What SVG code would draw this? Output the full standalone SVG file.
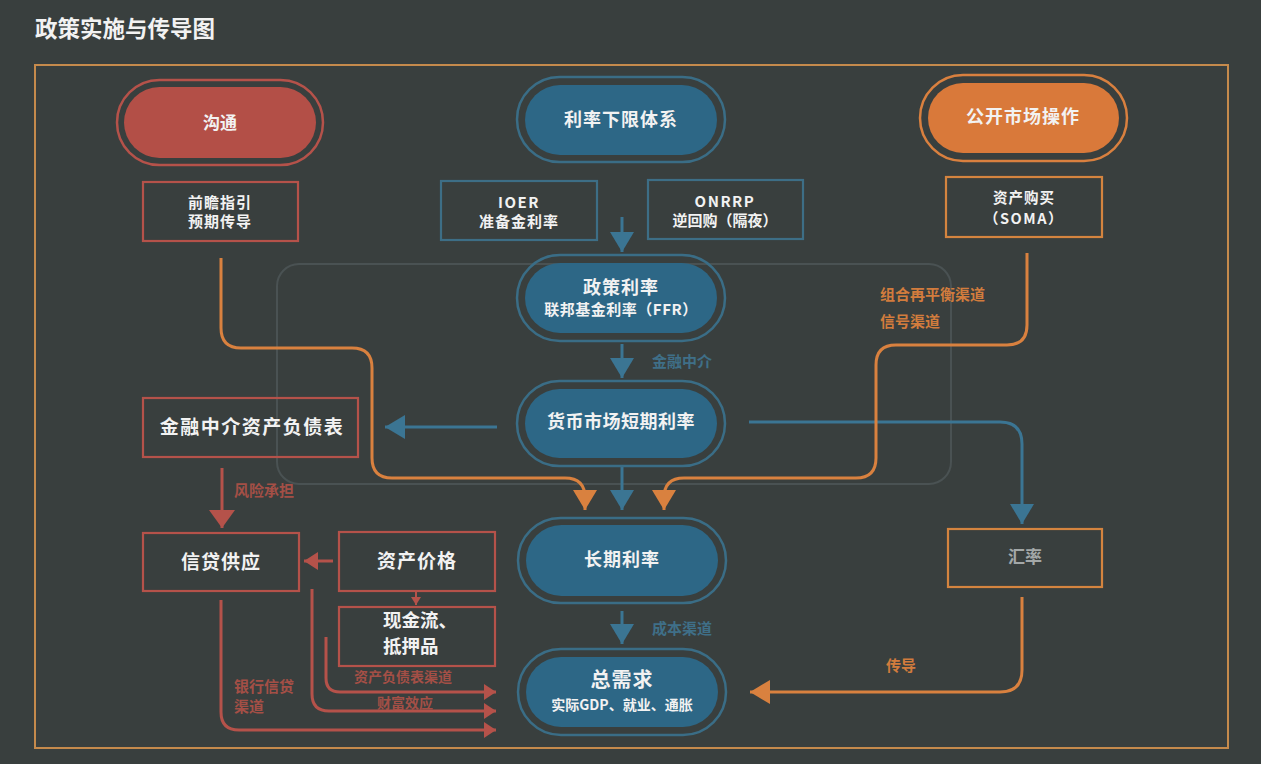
<svg xmlns="http://www.w3.org/2000/svg" width="1261" height="764" viewBox="0 0 1261 764">
<style>
text{font-family:"Noto Sans CJK SC","Noto Sans",sans-serif;font-weight:bold;fill:#f2f2f2;text-anchor:middle}
.lbl{text-anchor:start}
.ringB{fill:none;stroke:#3a6d86;stroke-width:2.5}
.ringR{fill:none;stroke:#b5524a;stroke-width:2.5}
.ringO{fill:none;stroke:#d9803f;stroke-width:2.5}
.fillB{fill:#2d6786}
.fillR{fill:#b34f47}
.fillO{fill:#d9793a}
.boxB{fill:none;stroke:#3d6e86;stroke-width:2.2}
.boxR{fill:none;stroke:#b5524a;stroke-width:2.2}
.boxO{fill:none;stroke:#d4843f;stroke-width:2.2}
.lnB{fill:none;stroke:#3b7593;stroke-width:3}
.lnO{fill:none;stroke:#d9813f;stroke-width:3}
.lnR{fill:none;stroke:#b5524a;stroke-width:3}
.tB{fill:#3f6f88}
.tO{fill:#d27c3d}
.tR{fill:#a44f46}
</style>
<defs>
<marker id="aB" markerUnits="userSpaceOnUse" markerWidth="20" markerHeight="24" refX="20" refY="12" orient="auto"><path d="M0,0 L20,12 L0,24 z" fill="#3b7593"/></marker>
<marker id="aO" markerUnits="userSpaceOnUse" markerWidth="20" markerHeight="24" refX="20" refY="12" orient="auto"><path d="M0,0 L20,12 L0,24 z" fill="#d9813f"/></marker>
<marker id="aR" markerUnits="userSpaceOnUse" markerWidth="18" markerHeight="26" refX="18" refY="13" orient="auto"><path d="M0,0 L18,13 L0,26 z" fill="#b5524a"/></marker>
<marker id="aRs" markerUnits="userSpaceOnUse" markerWidth="14" markerHeight="18" refX="14" refY="9" orient="auto"><path d="M0,0 L14,9 L0,18 z" fill="#b5524a"/></marker>
<marker id="aRm" markerUnits="userSpaceOnUse" markerWidth="12" markerHeight="16" refX="12" refY="8" orient="auto"><path d="M0,0 L12,8 L0,16 z" fill="#b5524a"/></marker>
<marker id="aRx" markerUnits="userSpaceOnUse" markerWidth="8" markerHeight="10" refX="8" refY="5" orient="auto"><path d="M0,0 L8,5 L0,10 z" fill="#b5524a"/></marker>
</defs>
<rect x="0" y="0" width="1261" height="764" fill="#393f3e"/>
<text class="lbl" x="35" y="37" style="font-size:22.5px">政策实施与传导图</text>
<rect x="35" y="65" width="1193" height="683" fill="none" stroke="#c58a4c" stroke-width="2"/>
<rect x="277" y="264" width="674" height="220" rx="22" fill="none" stroke="#4a5253" stroke-width="2"/>

<g id="connectors">
<path class="lnB" d="M622,217 V252" marker-end="url(#aB)"/>
<path class="lnB" d="M622,344 V378" marker-end="url(#aB)"/>
<path class="lnB" d="M622,466 V510" marker-end="url(#aB)"/>
<path class="lnB" d="M622,611 V644" marker-end="url(#aB)"/>
<path class="lnB" d="M497,427 H385" marker-end="url(#aB)"/>
<path class="lnB" d="M749,422 H1000 Q1022,422 1022,444 V524" marker-end="url(#aB)"/>
<path class="lnO" d="M221,258 V328 Q221,348 241,348 H352 Q372,348 372,368 V458 Q372,478 392,478 H565 Q585,478 585,498 V510" marker-end="url(#aO)"/>
<path class="lnO" d="M1027,253 V325 Q1027,345 1007,345 H896 Q876,345 876,365 V458 Q876,478 856,478 H684 Q664,478 664,498 V510" marker-end="url(#aO)"/>
<path class="lnO" d="M1022,597 V670 Q1022,692 1000,692 H750" marker-end="url(#aO)"/>
<path class="lnR" d="M222,468 V528" marker-end="url(#aR)"/>
<path class="lnR" d="M333,561 H304" marker-end="url(#aRs)"/>
<path class="lnR" style="stroke-width:2" d="M416,591 V605" marker-end="url(#aRx)"/>
<path class="lnR" d="M221,600 V712 Q221,730 239,730 H496" marker-end="url(#aRm)"/>
<path class="lnR" d="M312,589 V694 Q312,711 329,711 H496" marker-end="url(#aRm)"/>
<path class="lnR" d="M326,637 V678 Q326,692 340,692 H496" marker-end="url(#aRm)"/>
<text class="lbl tB" x="652" y="367" style="font-size:15px">金融中介</text>
<text class="lbl tB" x="652" y="634" style="font-size:15px">成本渠道</text>
<text class="lbl tO" x="880" y="300" style="font-size:15px">组合再平衡渠道</text>
<text class="lbl tO" x="880" y="327" style="font-size:15px">信号渠道</text>
<text class="lbl tO" x="886" y="671" style="font-size:15px">传导</text>
<text class="lbl tR" x="234" y="496" style="font-size:15px">风险承担</text>
<text class="lbl tR" x="234" y="692" style="font-size:15px">银行信贷<tspan x="234" dy="20">渠道</tspan></text>
<text class="lbl tR" x="354" y="682" style="font-size:14px">资产负债表渠道</text>
<text class="lbl tR" x="377" y="708" style="font-size:14px">财富效应</text>
</g>

<g id="node-goutong">
<rect class="ringR" x="117" y="80" width="206" height="85" rx="42.5"/>
<rect class="fillR" x="124" y="87" width="192" height="71" rx="35.5"/>
<text x="220" y="129" style="font-size:17px">沟通</text>
</g>
<g id="node-qianzhan">
<rect class="boxR" x="143" y="182" width="155" height="59"/>
<text x="220" y="208" style="font-size:15px;letter-spacing:1px">前瞻指引<tspan x="220" dy="19">预期传导</tspan></text>
</g>
<g id="node-lilvxiaxian">
<rect class="ringB" x="517" y="77" width="208" height="85" rx="42.5"/>
<rect class="fillB" x="525" y="85" width="192" height="70" rx="35"/>
<text x="621" y="126" style="font-size:18px;letter-spacing:1px">利率下限体系</text>
</g>
<g id="node-ioer">
<rect class="boxB" x="441" y="181" width="156" height="59"/>
<text x="519" y="208" style="font-size:15px;letter-spacing:1.5px">IOER<tspan x="519" dy="19" style="letter-spacing:1px">准备金利率</tspan></text>
</g>
<g id="node-onrrp">
<rect class="boxB" x="648" y="180" width="155" height="59"/>
<text x="725" y="207" style="font-size:15px;letter-spacing:1.5px">ONRRP<tspan x="725" dy="19" style="letter-spacing:0px">逆回购（隔夜）</tspan></text>
</g>
<g id="node-gongkai">
<rect class="ringO" x="920" y="75" width="207" height="86" rx="43"/>
<rect class="fillO" x="928" y="83" width="191" height="70" rx="35"/>
<text x="1023" y="123" style="font-size:18px;letter-spacing:1px">公开市场操作</text>
</g>
<g id="node-soma">
<rect class="boxO" x="946" y="177" width="156" height="60"/>
<text x="1024" y="203" style="font-size:14.5px;letter-spacing:1px">资产购买<tspan x="1024" dy="21" style="letter-spacing:1.5px">（SOMA）</tspan></text>
</g>
<g id="node-zhengce">
<rect class="ringB" x="517" y="255" width="208" height="86" rx="43"/>
<rect class="fillB" x="525" y="263" width="192" height="70" rx="35"/>
<text x="621" y="294" style="font-size:18px;letter-spacing:1px">政策利率<tspan x="621" dy="21" style="font-size:15px;letter-spacing:0.5px">联邦基金利率（FFR）</tspan></text>
</g>
<g id="node-huobi">
<rect class="ringB" x="517" y="381" width="208" height="85" rx="42.5"/>
<rect class="fillB" x="525" y="389" width="192" height="69" rx="34.5"/>
<text x="621" y="428" style="font-size:18px;letter-spacing:0.5px">货币市场短期利率</text>
</g>
<g id="node-jinrong">
<rect class="boxR" x="143" y="398" width="215" height="59"/>
<text x="252" y="434" style="font-size:19px;letter-spacing:1.5px">金融中介资产负债表</text>
</g>
<g id="node-changqi">
<rect class="ringB" x="518" y="518" width="208" height="85" rx="42.5"/>
<rect class="fillB" x="526" y="525" width="192" height="71" rx="35.5"/>
<text x="622" y="566" style="font-size:18px;letter-spacing:1px">长期利率</text>
</g>
<g id="node-xindai">
<rect class="boxR" x="143" y="533" width="156" height="58"/>
<text x="221" y="569" style="font-size:19px;letter-spacing:1px">信贷供应</text>
</g>
<g id="node-zichan">
<rect class="boxR" x="339" y="532" width="156" height="59"/>
<text x="417" y="568" style="font-size:19px;letter-spacing:1px">资产价格</text>
</g>
<g id="node-xianjin">
<rect class="boxR" x="339" y="607" width="156" height="59"/>
<text class="lbl" x="383" y="627" style="font-size:18.5px">现金流、<tspan x="383" dy="26">抵押品</tspan></text>
</g>
<g id="node-huilv">
<rect class="boxO" x="948" y="529" width="154" height="58"/>
<text x="1025" y="563" style="font-size:17px;fill:#a3a8a8">汇率</text>
</g>
<g id="node-zongxuqiu">
<rect class="ringB" x="518" y="649" width="208" height="86" rx="43"/>
<rect class="fillB" x="526" y="657" width="192" height="70" rx="35"/>
<text x="622" y="687" style="font-size:20px;letter-spacing:1px">总需求<tspan x="622" dy="23" style="font-size:14px;letter-spacing:0px">实际GDP、就业、通胀</tspan></text>
</g>
</svg>
